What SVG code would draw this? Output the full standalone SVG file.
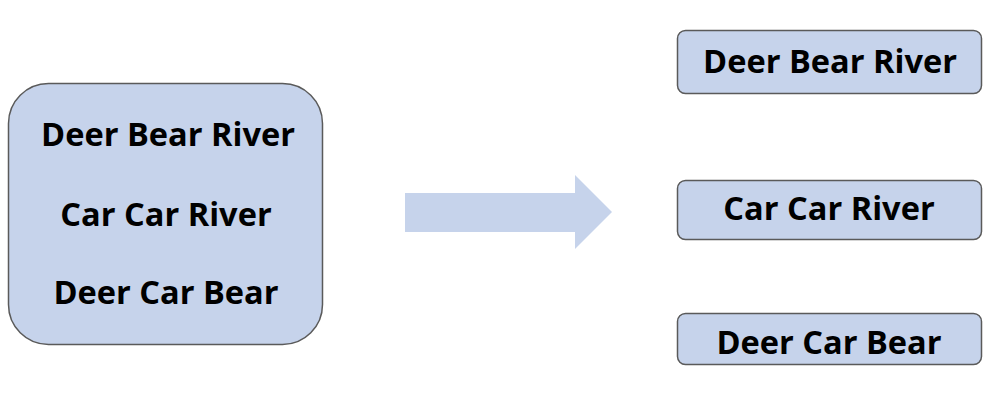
<svg xmlns="http://www.w3.org/2000/svg" width="996" height="399" viewBox="0 0 996 399">
  <style>
    .box { fill: #c6d3eb; stroke: #5a5a5a; stroke-width: 1.5; }
    .lbl { font-family: "Open Sans", "Noto Sans", "Liberation Sans", sans-serif; font-weight: bold; font-size: 32.6px; fill: #000; text-anchor: middle; }
    .flow { fill: #c6d3eb; }
  </style>
  <rect width="996" height="399" fill="#ffffff"/>

  <g id="input">
    <rect class="box" x="8.5" y="83.5" width="314" height="261" rx="40" ry="40"/>
    <text class="lbl" x="168" y="146">Deer Bear River</text>
    <text class="lbl" x="166" y="226">Car Car River</text>
    <text class="lbl" x="166" y="304">Deer Car Bear</text>
  </g>

  <g id="connectors">
    <polygon class="flow" points="405,193 575,193 575,175 612,212 575,249 575,232 405,232"/>
  </g>

  <g id="split1">
    <rect class="box" x="677.5" y="30.5" width="304" height="63" rx="8" ry="8"/>
    <text class="lbl" x="830" y="73">Deer Bear River</text>
  </g>
  <g id="split2">
    <rect class="box" x="677.5" y="180.5" width="304" height="59" rx="8" ry="8"/>
    <text class="lbl" x="829" y="220">Car Car River</text>
  </g>
  <g id="split3">
    <rect class="box" x="677.5" y="313.5" width="304" height="51" rx="8" ry="8"/>
    <text class="lbl" x="829" y="354">Deer Car Bear</text>
  </g>
</svg>
